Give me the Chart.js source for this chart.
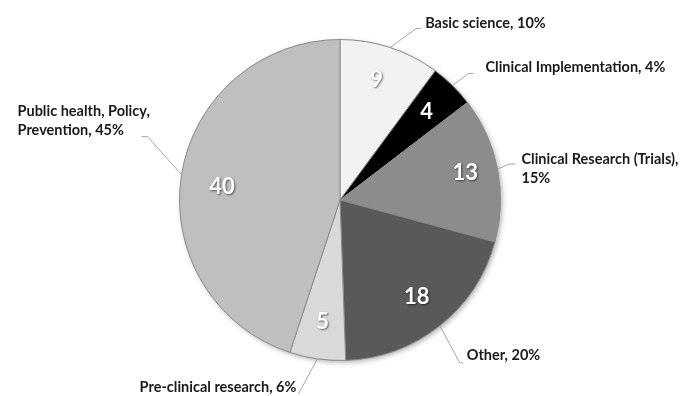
<!DOCTYPE html>
<html>
<head>
<meta charset="utf-8">
<script src="https://cdn.jsdelivr.net/npm/chart.js@4.4.1/dist/chart.umd.min.js"></script>
<style>
  html, body { margin: 0; padding: 0; background: #fff; }
  canvas { display: block; }
</style>
</head>
<body>
<canvas id="researchChart" width="686" height="396"></canvas>
<script>
const categories = [
  'Basic science',
  'Clinical Implementation',
  'Clinical Research (Trials)',
  'Other',
  'Pre-clinical research',
  'Public health, Policy, Prevention'
];
const counts = [9, 4, 13, 18, 5, 40];
const sliceColors = ['#f2f2f2', '#000000', '#8c8c8c', '#595959', '#d9d9d9', '#bfbfbf'];

// outer label layout, relative to the slice's outer edge point
// elbow: leader bend, tail: horizontal run after the bend, text: offset from tail end
const labelLayout = [
  { elbow: [26, -19], tail: 5, text: [4, -5], align: 'left', breakAfter: 0 },
  { elbow: [16, -12], tail: 5, text: [12, -6], align: 'left', breakAfter: 0 },
  { elbow: [12, -5], tail: 6, text: [6, -5], align: 'left', breakAfter: 3 },
  { elbow: [20, 37], tail: 3, text: [4, -7], align: 'left', breakAfter: 0 },
  { elbow: [-19, 35], tail: 0, text: [-2, -7], align: 'right', breakAfter: 0 },
  { elbow: [-34, -38], tail: -6, text: [-124, -25], align: 'left', breakAfter: 3 }
];
// small nudges for the values inside the slices
const valueNudge = [[-2, -3], [0, 0], [4, -3], [0, 0], [0, 0], [4, 6]];

const total = counts.reduce((acc, curr) => acc + curr, 0);

const pieShadow = {
  id: 'pieShadow',
  beforeDatasetsDraw(chart) {
    const arc = chart.getDatasetMeta(0).data[0];
    if (!arc) return;
    const { x, y, outerRadius } = arc.getProps(['x', 'y', 'outerRadius'], true);
    const ctx = chart.ctx;
    ctx.save();
    ctx.shadowColor = 'rgba(0,0,0,0.3)';
    ctx.shadowBlur = 5;
    ctx.shadowOffsetX = 2;
    ctx.shadowOffsetY = 2;
    ctx.fillStyle = '#bfbfbf';
    ctx.beginPath();
    ctx.arc(x, y, outerRadius, 0, Math.PI * 2);
    ctx.fill();
    ctx.restore();
  }
};

const sliceLabels = {
  id: 'sliceLabels',
  afterDatasetsDraw(chart) {
    const ctx = chart.ctx;
    const meta = chart.getDatasetMeta(0);
    meta.data.forEach((arc, i) => {
      const { x, y, startAngle, endAngle, outerRadius } =
        arc.getProps(['x', 'y', 'startAngle', 'endAngle', 'outerRadius'], true);
      const mid = (startAngle + endAngle) / 2;
      const cos = Math.cos(mid), sin = Math.sin(mid);

      // value inside the slice
      ctx.save();
      ctx.font = 'bold 22px Lato';
      ctx.textAlign = 'center';
      ctx.textBaseline = 'middle';
      ctx.shadowColor = 'rgba(0,0,0,0.55)';
      ctx.shadowOffsetX = 1;
      ctx.shadowOffsetY = 1;
      ctx.shadowBlur = 2;
      ctx.fillStyle = '#ffffff';
      const r = outerRadius * 0.77;
      ctx.fillText(String(counts[i]), x + cos * r + valueNudge[i][0], y + sin * r + valueNudge[i][1]);
      ctx.restore();

      // leader line
      const lay = labelLayout[i];
      const ex = x + cos * outerRadius, ey = y + sin * outerRadius;
      const bx = ex + lay.elbow[0], by = ey + lay.elbow[1];
      const tx = bx + lay.tail, ty = by;
      ctx.save();
      ctx.strokeStyle = '#a6a6a6';
      ctx.lineWidth = 1;
      ctx.beginPath();
      ctx.moveTo(ex, ey);
      ctx.lineTo(bx, by);
      ctx.lineTo(tx, ty);
      ctx.stroke();

      // outer label
      const pct = Math.round(counts[i] / total * 100) + '%';
      const words = (categories[i] + ', ' + pct).split(' ');
      const lines = lay.breakAfter
        ? [words.slice(0, lay.breakAfter).join(' '), words.slice(lay.breakAfter).join(' ')]
        : [words.join(' ')];
      ctx.font = 'bold 14.5px Lato';
      ctx.fillStyle = '#1a1a1a';
      ctx.textAlign = lay.align;
      ctx.textBaseline = 'middle';
      lines.forEach((line, j) => {
        ctx.fillText(line, tx + lay.text[0], ty + lay.text[1] + j * 19);
      });
      ctx.restore();
    });
  }
};

const ctx = document.getElementById('researchChart').getContext('2d');
new Chart(ctx, {
  type: 'pie',
  data: {
    labels: categories,
    datasets: [
      {
        data: counts,
        backgroundColor: sliceColors,
        borderColor: '#8a8a8a',
        borderWidth: 1
      }
    ]
  },
  options: {
    responsive: false,
    animation: false,
    devicePixelRatio: 1,
    layout: {
      padding: { top: 39, bottom: 35, left: 100, right: 106 }
    },
    plugins: {
      legend: { display: false },
      tooltip: { enabled: false }
    }
  },
  plugins: [pieShadow, sliceLabels]
});
</script>
</body>
</html>
